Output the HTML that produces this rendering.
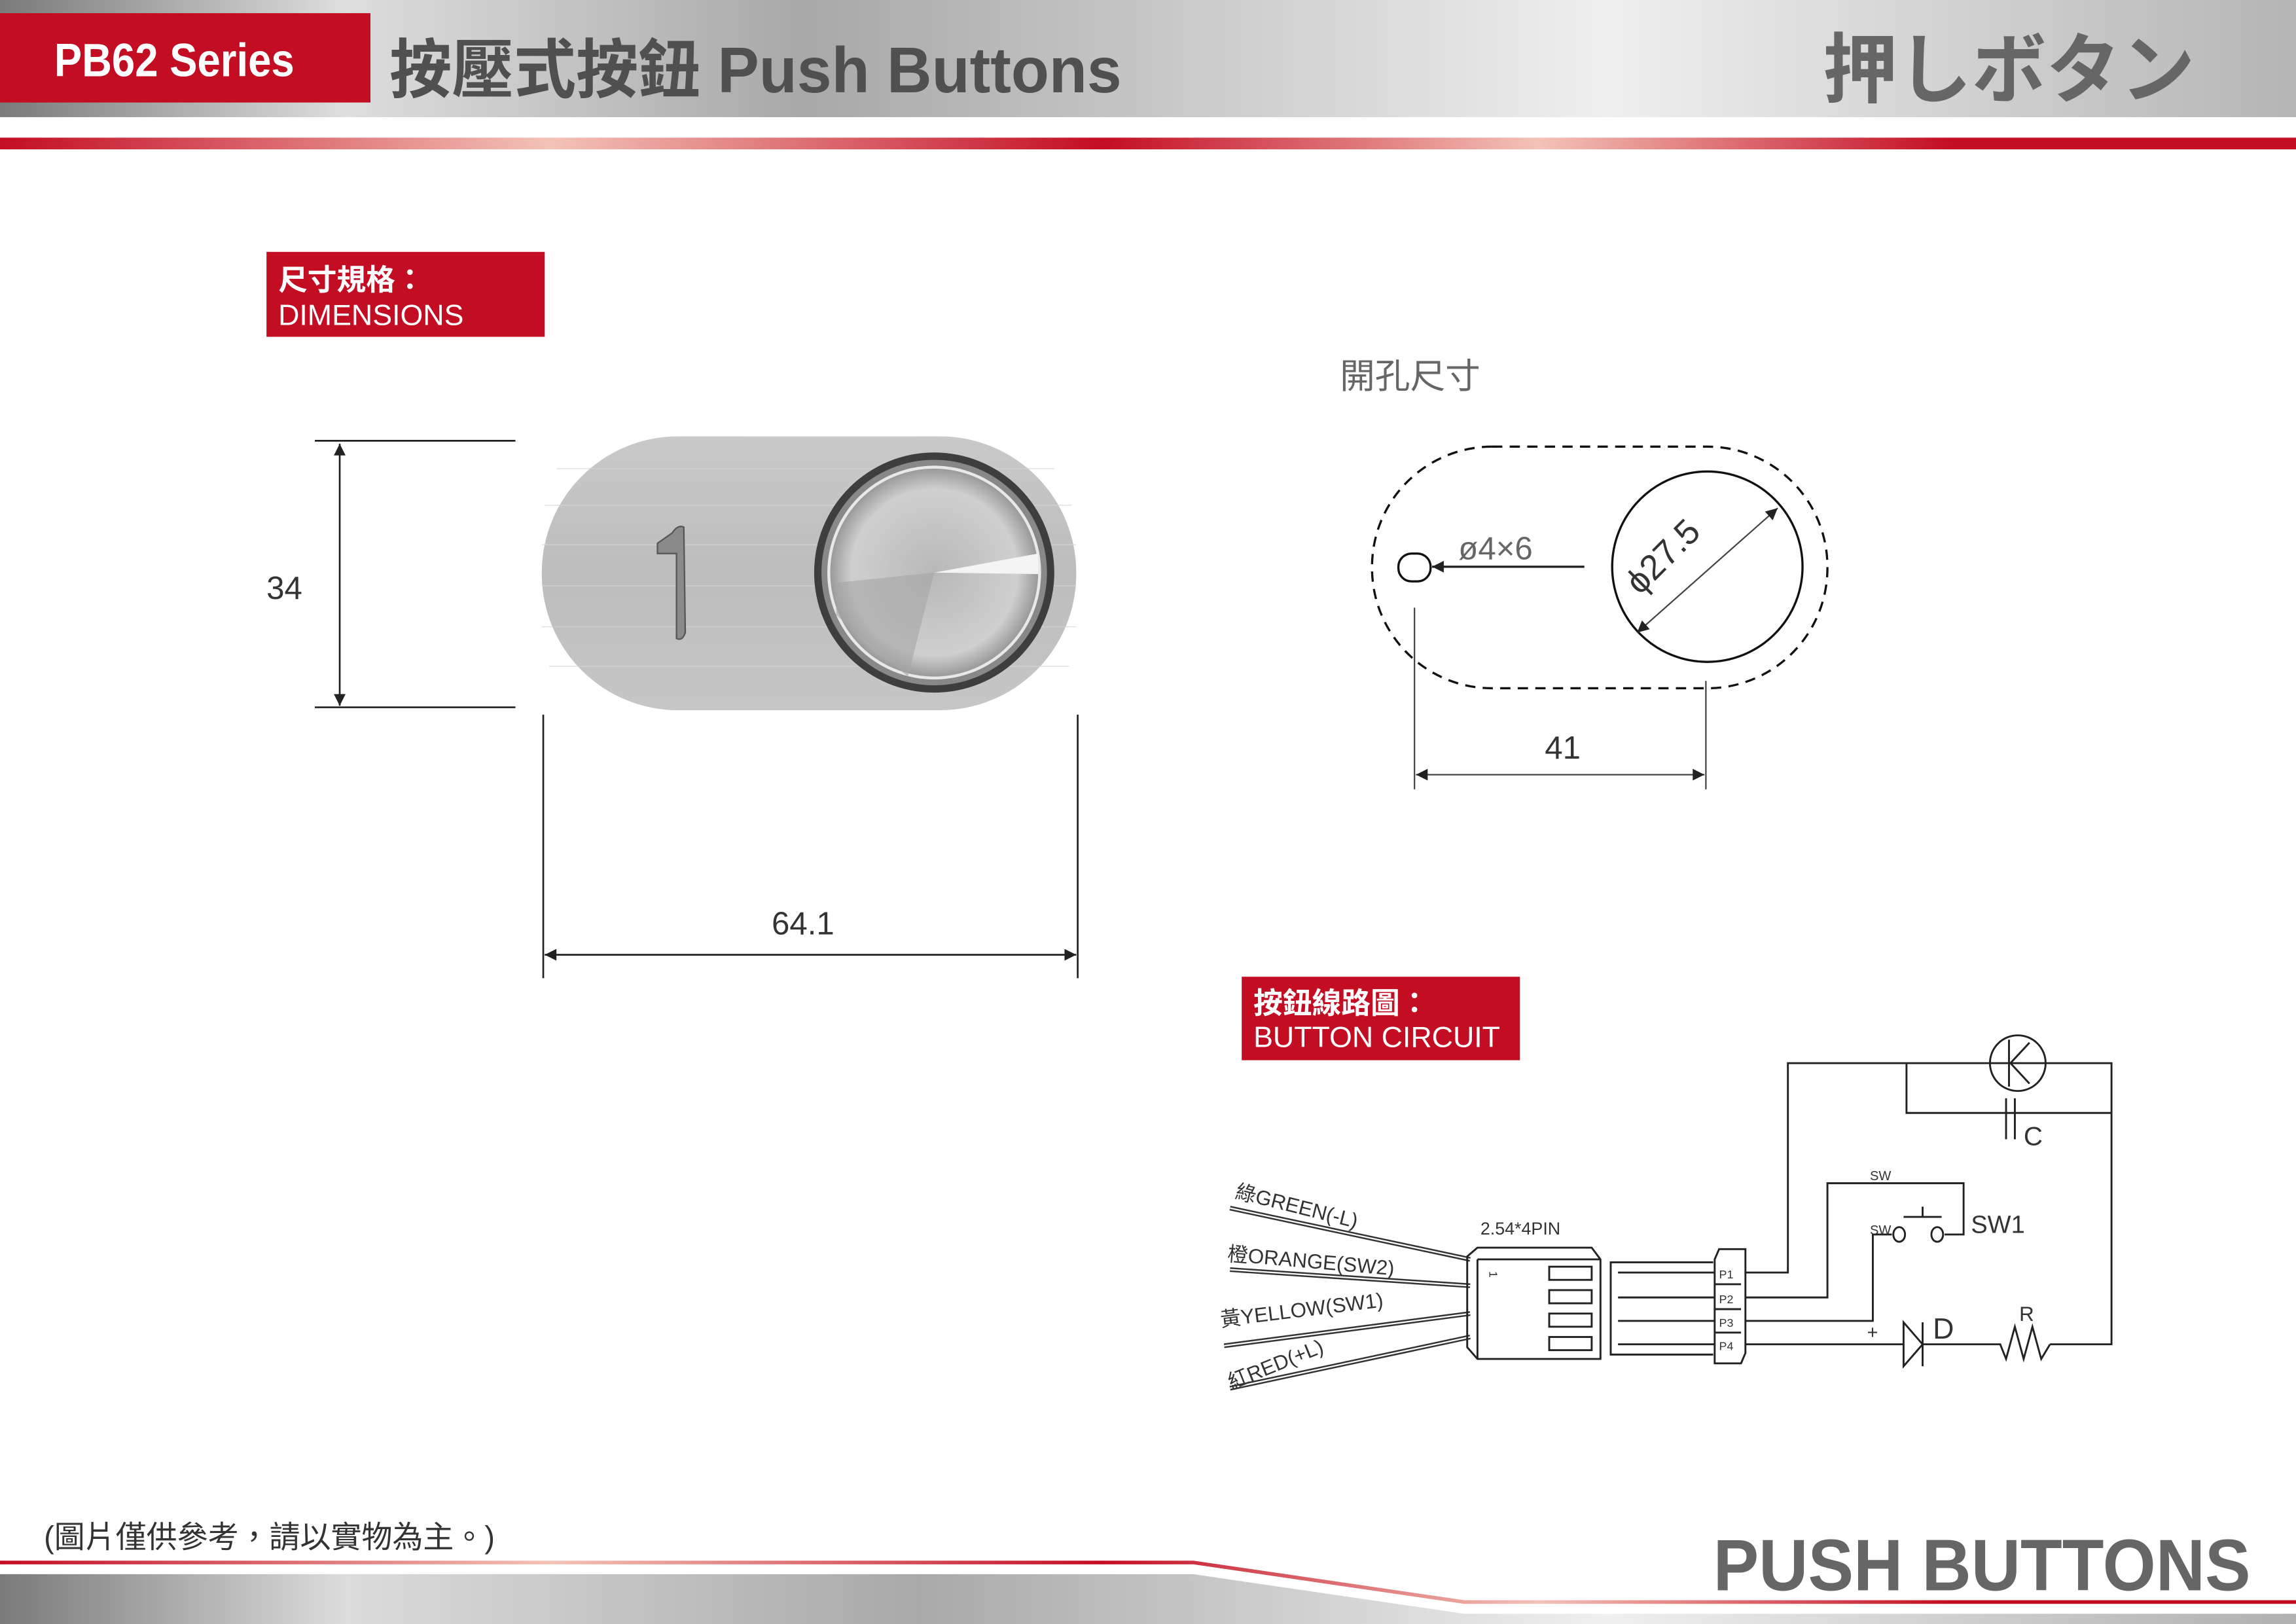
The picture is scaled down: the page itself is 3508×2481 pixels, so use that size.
<!DOCTYPE html>
<html><head><meta charset="utf-8"><style>
html,body{margin:0;padding:0;background:#fff;}
svg{display:block;width:3508px;height:2481px;}
text{font-family:"Liberation Sans","Noto Sans CJK TC",sans-serif;}
</style></head><body>
<svg viewBox="0 0 1568 1109" preserveAspectRatio="none" xmlns="http://www.w3.org/2000/svg">
<defs>
<linearGradient id="gb" x1="0" x2="1" y1="0" y2="0">
<stop offset="0" stop-color="#7a7a7a"/><stop offset="0.15" stop-color="#dedede"/><stop offset="0.35" stop-color="#a8a8a8"/><stop offset="0.7" stop-color="#efefef"/><stop offset="1" stop-color="#b5b5b5"/></linearGradient>
<linearGradient id="rb" x1="0" x2="1" y1="0" y2="0">
<stop offset="0" stop-color="#c30d23"/><stop offset="0.24" stop-color="#f3c3b8"/><stop offset="0.48" stop-color="#c30d23"/><stop offset="0.67" stop-color="#f3c3b8"/><stop offset="0.85" stop-color="#c30d23"/><stop offset="1" stop-color="#c30d23"/></linearGradient>
<linearGradient id="fb" x1="0" x2="1" y1="0" y2="0">
<stop offset="0" stop-color="#7a7a7a"/><stop offset="0.15" stop-color="#dcdcdc"/><stop offset="0.4" stop-color="#a9a9a9"/><stop offset="0.7" stop-color="#f0f0f0"/><stop offset="1" stop-color="#b0b0b0"/></linearGradient>
<linearGradient id="pill" x1="0" x2="0" y1="0" y2="1">
<stop offset="0" stop-color="#c9c9c9"/><stop offset="0.5" stop-color="#bdbdbd"/><stop offset="1" stop-color="#c6c6c6"/></linearGradient>
<radialGradient id="btn" cx="0.5" cy="0.5" r="0.5">
<stop offset="0" stop-color="#b8b8b8"/><stop offset="0.8" stop-color="#cfcfcf"/><stop offset="1" stop-color="#9a9a9a"/></radialGradient>
<marker id="ar" viewBox="0 0 10 10" refX="10" refY="5" markerWidth="16" markerHeight="8" markerUnits="userSpaceOnUse" orient="auto-start-reverse"><path d="M0,0L10,5L0,10z" fill="#222"/></marker>
</defs>

<!-- header -->
<rect x="0" y="0" width="1568" height="80" fill="url(#gb)"/>
<rect x="0" y="9" width="253" height="61" fill="#c30d23"/>
<text x="37" y="52" font-size="32" font-weight="bold" fill="#fff" textLength="164" lengthAdjust="spacingAndGlyphs">PB62 Series</text>
<text x="266" y="63" font-size="44" font-weight="bold" fill="#505050" textLength="500" lengthAdjust="spacingAndGlyphs">按壓式按鈕 Push Buttons</text>
<text x="1245" y="66" font-size="52" font-weight="bold" fill="#666" textLength="254" lengthAdjust="spacingAndGlyphs">押しボタン</text>
<rect x="0" y="94" width="1568" height="8" fill="url(#rb)"/>

<!-- dimensions label -->
<rect x="182" y="172" width="190" height="58" fill="#c30d23"/>
<text x="190" y="198" font-size="20" font-weight="bold" fill="#fff">尺寸規格：</text>
<text x="190" y="222" font-size="20" fill="#fff">DIMENSIONS</text>

<!-- button image -->
<rect x="370" y="298" width="365" height="187" rx="93" ry="93" fill="url(#pill)"/>
<g stroke="#d6d6d6" stroke-width="0.6" opacity="0.8">
<line x1="380" y1="320" x2="720" y2="320"/><line x1="372" y1="345" x2="732" y2="345"/><line x1="370" y1="372" x2="735" y2="372"/><line x1="370" y1="400" x2="735" y2="400"/><line x1="370" y1="428" x2="735" y2="428"/><line x1="375" y1="455" x2="730" y2="455"/></g>
<path d="M449,371 L459,364 Q463,358 467,360 L468,432 Q466,438 462,436 L462,378 L449,378z" fill="#8a8a8a" stroke="#555" stroke-width="1"/>
<circle cx="638" cy="391" r="82" fill="#3e3e3e"/>
<circle cx="638" cy="391" r="77" fill="#888"/>
<circle cx="638" cy="391" r="73" fill="#e8e8e8"/>
<circle cx="638" cy="391" r="71" fill="url(#btn)"/>
<path d="M638,391 L709,378 L709,392z" fill="#f4f4f4"/>
<path d="M638,391 L571,398 L571,420 L620,462z" fill="#a5a5a5" opacity="0.6"/>

<!-- dim 34 -->
<g stroke="#222" stroke-width="1.2">
<line x1="215" y1="301" x2="352" y2="301"/><line x1="215" y1="483" x2="352" y2="483"/>
<line x1="232" y1="303" x2="232" y2="482" marker-start="url(#ar)" marker-end="url(#ar)"/>
<line x1="371" y1="488" x2="371" y2="668"/><line x1="736" y1="488" x2="736" y2="668"/>
<line x1="372" y1="652" x2="735" y2="652" marker-start="url(#ar)" marker-end="url(#ar)"/>
</g>
<text x="182" y="409" font-size="22" fill="#333">34</text>
<text x="527" y="638" font-size="22" fill="#333">64.1</text>

<!-- cutout -->
<text x="915" y="265" font-size="24" fill="#666">開孔尺寸</text>
<rect x="937" y="305" width="311" height="165" rx="82" ry="82" fill="none" stroke="#111" stroke-width="1.5" stroke-dasharray="7,5"/>
<circle cx="1166" cy="387" r="65" fill="none" stroke="#111" stroke-width="1.5"/>
<rect x="955" y="378" width="22" height="19" rx="9" fill="none" stroke="#111" stroke-width="1.5"/>
<line x1="1082" y1="387" x2="978" y2="387" stroke="#222" stroke-width="1.5" marker-end="url(#ar)"/>
<line x1="1118" y1="432" x2="1214" y2="347" stroke="#444" stroke-width="1" marker-start="url(#ar)" marker-end="url(#ar)"/>
<text x="996" y="382" font-size="22" fill="#666">ø4×6</text>
<text transform="translate(1120,407) rotate(-45)" font-size="24" fill="#333">ϕ27.5</text>
<g stroke="#444" stroke-width="1">
<line x1="966" y1="415" x2="966" y2="539"/><line x1="1165" y1="465" x2="1165" y2="539"/>
<line x1="967" y1="529" x2="1164" y2="529" marker-start="url(#ar)" marker-end="url(#ar)"/></g>
<text x="1055" y="518" font-size="22" fill="#333">41</text>

<!-- circuit label -->
<rect x="848" y="667" width="190" height="57" fill="#c30d23"/>
<text x="856" y="692" font-size="20" font-weight="bold" fill="#fff">按鈕線路圖：</text>
<text x="856" y="715" font-size="20" fill="#fff">BUTTON CIRCUIT</text>

<!-- wires -->
<g stroke="#333" stroke-width="3.2" fill="none"><line x1="840" y1="825" x2="1004" y2="860"/><line x1="840" y1="867" x2="1004" y2="878"/><line x1="836" y1="919" x2="1004" y2="897"/><line x1="840" y1="948" x2="1004" y2="913"/></g>
<g stroke="#fff" stroke-width="1" fill="none"><line x1="840" y1="825" x2="1004" y2="860"/><line x1="840" y1="867" x2="1004" y2="878"/><line x1="836" y1="919" x2="1004" y2="897"/><line x1="840" y1="948" x2="1004" y2="913"/></g>
<g font-size="14" fill="#333">
<text transform="translate(843,818) rotate(14)">綠GREEN(-L)</text>
<text transform="translate(838,861) rotate(5)">橙ORANGE(SW2)</text>
<text transform="translate(834,906) rotate(-7)">黃YELLOW(SW1)</text>
<text transform="translate(841,949) rotate(-22)">紅RED(+L)</text>
<text x="1011" y="843" font-size="12">2.54*4PIN</text></g>

<g stroke="#222" stroke-width="1.3" fill="none">
<path d="M1002,858 L1009,852 L1087,852 L1093,860 L1093,928 L1009,928 L1002,920z"/>
<line x1="1009" y1="860" x2="1093" y2="860"/><line x1="1009" y1="860" x2="1009" y2="928"/>
<rect x="1058" y="865" width="29" height="9"/><rect x="1058" y="881" width="29" height="9"/><rect x="1058" y="897" width="29" height="9"/><rect x="1058" y="913" width="29" height="9"/>
<path d="M1170,862 L1100,862 L1100,925 L1170,925"/>
<line x1="1105" y1="869" x2="1171" y2="869"/><line x1="1105" y1="886" x2="1171" y2="886"/><line x1="1105" y1="902" x2="1171" y2="902"/><line x1="1105" y1="918" x2="1171" y2="918"/>
<path d="M1171,860 L1174,853 L1192,853 L1192,924 L1189,931 L1171,931z"/>
<line x1="1171" y1="877" x2="1189" y2="877"/><line x1="1171" y1="894" x2="1189" y2="894"/><line x1="1171" y1="910" x2="1189" y2="910"/>
<!-- P1 -->
<path d="M1192,869 L1221,869 L1221,726 L1442,726 L1442,918 L1400,918"/>
<path d="M1302,726 L1302,760 L1442,760"/>
<circle cx="1378" cy="726" r="19"/>
<line x1="1372" y1="710" x2="1372" y2="742"/><path d="M1386,712 L1373,726 L1386,740"/>
<line x1="1370" y1="750" x2="1370" y2="778"/><line x1="1376" y1="750" x2="1376" y2="778"/>
<!-- P2 -->
<path d="M1192,886 L1248,886 L1248,808 L1341,808 L1341,843 L1328,843"/>
<!-- P3 -->
<path d="M1192,902 L1279,902 L1279,843 L1292,843"/>
<ellipse cx="1297" cy="843" rx="4" ry="5"/><ellipse cx="1323" cy="843" rx="4" ry="5"/>
<line x1="1300" y1="831" x2="1326" y2="831"/><line x1="1313" y1="824" x2="1313" y2="831"/>
<!-- P4 -->
<path d="M1192,918 L1300,918"/>
<path d="M1300,903 L1313,918 L1300,933z"/><line x1="1313" y1="903" x2="1313" y2="933"/>
<path d="M1313,918 L1366,918 L1370,928 L1376,906 L1382,928 L1388,906 L1394,928 L1400,918"/>
</g>
<g fill="#333">
<text x="1174" y="873" font-size="8">P1</text><text x="1174" y="890" font-size="8">P2</text><text x="1174" y="906" font-size="8">P3</text><text x="1174" y="922" font-size="8">P4</text>
<text x="1017" y="868" font-size="8" transform="rotate(90 1017 868)">1</text>
<text x="1382" y="782" font-size="18">C</text>
<text x="1277" y="806" font-size="9">SW</text>
<text x="1277" y="843" font-size="9">SW</text>
<text x="1346" y="842" font-size="17">SW1</text>
<text x="1275" y="914" font-size="13">+</text>
<text x="1320" y="914" font-size="20">D</text>
<text x="1379" y="902" font-size="14">R</text>
</g>

<!-- footer -->
<text x="30" y="1057" font-size="21" fill="#333">(圖片僅供參考，請以實物為主。)</text>
<text x="1170" y="1086" font-size="50" font-weight="bold" fill="#666" textLength="367" lengthAdjust="spacingAndGlyphs">PUSH BUTTONS</text>
<polygon points="0,1075 815,1075 1000,1102 1568,1102 1568,1109 0,1109" fill="url(#fb)"/>
<polyline points="0,1067 815,1067 1000,1094 1568,1094" fill="none" stroke="url(#rb)" stroke-width="2.5"/>
</svg>
</body></html>
